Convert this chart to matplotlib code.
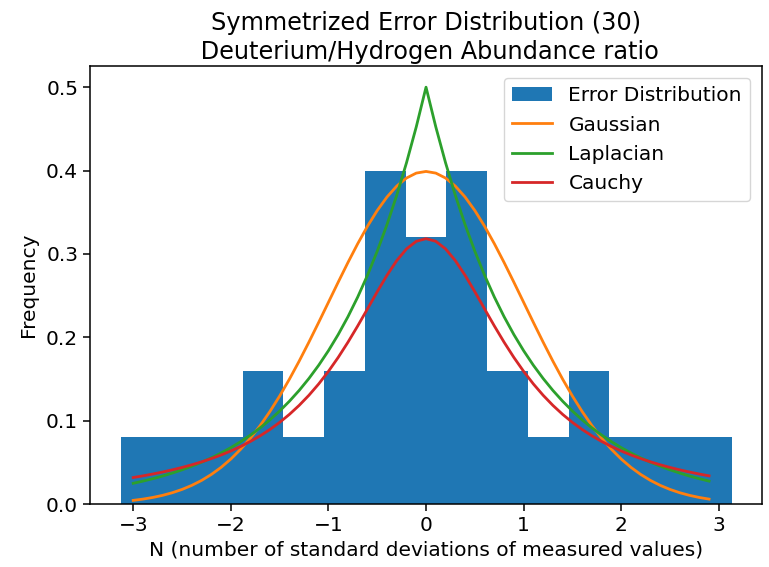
import numpy as np
import matplotlib.pyplot as plt

# histogram of the symmetrized errors (density)
bin_edges = [-3.13, -2.713, -2.296, -1.878, -1.461, -1.044, -0.626, -0.209,
             0.209, 0.626, 1.044, 1.461, 1.878, 2.296, 2.713, 3.13]
bin_heights = [0.08, 0.08, 0.08, 0.16, 0.08, 0.16, 0.40, 0.32,
               0.40, 0.16, 0.08, 0.16, 0.08, 0.08, 0.08]

# model curves, standard forms
x = np.arange(-3, 3, 0.1)
gauss = np.exp(-x**2 / 2) / np.sqrt(2 * np.pi)
laplace = 0.5 * np.exp(-np.abs(x))
cauchy = 1 / (np.pi * (1 + x**2))

fs = 14.5
fig = plt.figure(figsize=(7.69, 5.67), dpi=100)
ax = fig.add_axes([0.117, 0.111, 0.874, 0.772])

ax.hist(bin_edges[:-1], bins=bin_edges, weights=bin_heights, color='C0',
        label='Error Distribution')
ax.plot(x, gauss, color='C1', lw=2, label='Gaussian')
ax.plot(x, laplace, color='C2', lw=2, label='Laplacian')
ax.plot(x, cauchy, color='C3', lw=2, label='Cauchy')

ax.set_yticks([0.0, 0.1, 0.2, 0.3, 0.4, 0.5])
ax.tick_params(labelsize=fs, width=1.1, length=5)
for s in ax.spines.values():
    s.set_linewidth(1.1)
ax.set_xlabel('N (number of standard deviations of measured values)', fontsize=fs)
ax.set_ylabel('Frequency', fontsize=fs, labelpad=6)
ax.set_title('Symmetrized Error Distribution (30)\n Deuterium/Hydrogen Abundance ratio',
             fontsize=17.3, linespacing=1.3, pad=5)
ax.legend(fontsize=fs, borderaxespad=0.6)

fig.savefig('out.png', dpi=100)
